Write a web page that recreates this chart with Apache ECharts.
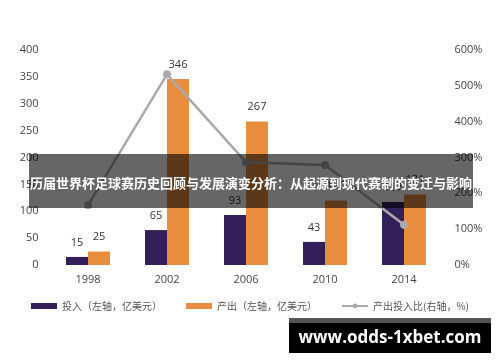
<!DOCTYPE html>
<html><head><meta charset="utf-8">
<script src="https://cdn.jsdelivr.net/npm/echarts@6/dist/echarts.min.js"></script>
<style>html,body{margin:0;padding:0;background:#fff}#c{width:500px;height:362px}</style>
</head><body><div id="c"></div>
<script>
const years = ['1998','2002','2006','2010','2014'];
const invest = [15, 65, 93, 43, 117];
const output = [25, 346, 267, 120, 131];
const ratio = [167, 532, 287, 279, 112];
const leftTicks = [0, 400, 50];
const rightTicks = [0, 600, 100];
const bannerText = '历届世界杯足球赛历史回顾与发展演变分析：从起源到现代赛制的变迁与影响';
const watermark = 'www.odds-1xbet.com';

const chart = echarts.init(document.getElementById('c'));
const font = '"Open Sans", "Noto Sans CJK SC", sans-serif';
chart.setOption({
  animation: false,
  backgroundColor: '#fff',
  textStyle: { fontFamily: font },
  grid: { left: 48.5, right: 56.5, top: 50, bottom: 97 },
  legend: {
    bottom: 46, left: 'center', itemGap: 24, itemWidth: 26, itemHeight: 6,
    textStyle: { fontSize: 10, color: '#555', fontFamily: '"Noto Sans CJK SC", sans-serif' },
    data: [
      { name: '投入（左轴，亿美元）', icon: 'rect' },
      { name: '产出（左轴，亿美元）', icon: 'rect' },
      { name: '产出投入比(右轴，%)' }
    ]
  },
  xAxis: {
    type: 'category', data: years,
    axisLine: { show: false }, axisTick: { show: false },
    axisLabel: { color: '#444', fontSize: 11, margin: 9 }
  },
  yAxis: [
    { type: 'value', min: leftTicks[0], max: leftTicks[1], interval: leftTicks[2],
      splitLine: { show: false }, axisLine: { show: false }, axisTick: { show: false },
      axisLabel: { color: '#444', fontSize: 11, margin: 10 } },
    { type: 'value', min: rightTicks[0], max: rightTicks[1], interval: rightTicks[2],
      splitLine: { show: false }, axisLine: { show: false }, axisTick: { show: false },
      axisLabel: { color: '#444', fontSize: 11, margin: 11, formatter: '{value}%' } }
  ],
  series: [
    { name: '投入（左轴，亿美元）', type: 'bar', data: invest, barWidth: 22, barGap: '0%',
      itemStyle: { color: '#33205a' },
      label: { show: true, position: 'top', distance: 9, color: '#333', fontSize: 11 } },
    { name: '产出（左轴，亿美元）', type: 'bar', data: output, barWidth: 22,
      itemStyle: { color: '#e98d3e' },
      label: { show: true, position: 'top', distance: 9, color: '#333', fontSize: 11 } },
    { name: '产出投入比(右轴，%)', type: 'line', yAxisIndex: 1, data: ratio, z: 5,
      symbol: 'circle', symbolSize: 8,
      lineStyle: { color: '#aaaaaa', width: 2.5 }, itemStyle: { color: '#aaaaaa' } }
  ],
  graphic: [
    { type: 'rect', z: 100, shape: { x: 29, y: 154, width: 444, height: 54 },
      style: { fill: 'rgba(0,0,0,0.6)' } },
    { type: 'text', z: 101, x: 251, y: 183,
      style: { text: bannerText, fill: '#fff', font: 'bold 13px "Noto Sans CJK SC", sans-serif',
        align: 'center', verticalAlign: 'middle' } },
    { type: 'rect', z: 100, shape: { x: 289, y: 318, width: 202, height: 5 },
      style: { fill: '#555' } },
    { type: 'rect', z: 100, shape: { x: 289, y: 323, width: 202, height: 30 },
      style: { fill: '#000' } },
    { type: 'text', z: 101, x: 390, y: 338,
      style: { text: watermark, fill: '#fff', font: 'bold 17px "Open Sans", sans-serif',
        align: 'center', verticalAlign: 'middle' } }
  ]
});
</script></body></html>
